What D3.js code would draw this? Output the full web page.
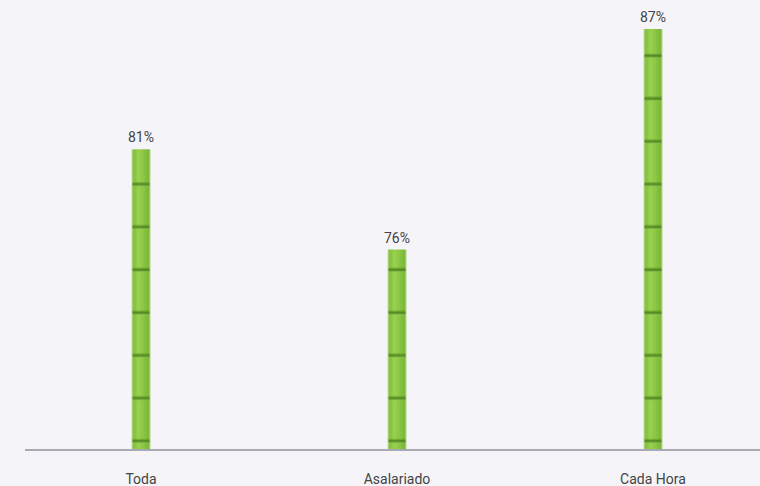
<!DOCTYPE html>
<html><head><meta charset="utf-8">
<script src="https://cdn.jsdelivr.net/npm/d3@7"></script>
<style>html,body{margin:0;padding:0;background:#f5f5f9;}svg{display:block;}</style>
</head><body>
<script>
const categories = ["Toda", "Asalariado", "Cada Hora"];
const values = [81, 76, 87];
const valueLabels = ["81%", "76%", "87%"];

const W = 760, H = 486, baseY = 450;
const svg = d3.select("body").append("svg").attr("width", W).attr("height", H);
svg.append("rect").attr("width", W).attr("height", H).attr("fill", "#f5f5f9");

const x = d3.scaleBand().domain(categories).range([13, 781]).padding(0);
const y = d3.scaleLinear().domain([66, 87]).range([baseY, 29]);

const defs = svg.append("defs");
const g = defs.append("linearGradient").attr("id", "bamboo").attr("x1", "0").attr("x2", "1").attr("y1", "0").attr("y2", "0");
[["0%", "#c2dd9c"], ["12%", "#80bf3c"], ["35%", "#9bd150"], ["60%", "#8dc845"], ["88%", "#78b836"], ["100%", "#b4d58c"]]
  .forEach(([o, c]) => g.append("stop").attr("offset", o).attr("stop-color", c));
const ng = defs.append("linearGradient").attr("id", "node").attr("x1", "0").attr("x2", "0").attr("y1", "0").attr("y2", "1");
[["0%", "#5e9a2a", 0], ["45%", "#4a7d1f", 0.85], ["65%", "#4f8424", 0.7], ["100%", "#a6d468", 0]]
  .forEach(([o, c, op]) => ng.append("stop").attr("offset", o).attr("stop-color", c).attr("stop-opacity", op));
const blur = defs.append("filter").attr("id", "soft").attr("x", "-20%").attr("y", "-50%").attr("width", "140%").attr("height", "200%");
blur.append("feGaussianBlur").attr("stdDeviation", "0.6");

const bw = 19;
const bars = svg.append("g");
categories.forEach((c, i) => {
  const cx = x(c) + x.bandwidth() / 2;
  const top = y(values[i]);
  const gg = bars.append("g");
  gg.append("rect").attr("x", cx - bw / 2).attr("y", top).attr("width", bw).attr("height", baseY - top).attr("fill", "url(#bamboo)");
  for (let ny = baseY - 9; ny > top + 15; ny -= 42.8) {
    gg.append("rect").attr("x", cx - bw / 2 + 1).attr("y", ny - 3).attr("width", bw - 2).attr("height", 6)
      .attr("fill", "url(#node)").attr("filter", "url(#soft)");
  }
  svg.append("text").attr("x", cx).attr("y", top - 7).attr("text-anchor", "middle")
    .attr("font-family", "Roboto, sans-serif").attr("font-size", 14).attr("fill", "#444").text(valueLabels[i]);
});

svg.append("line").attr("x1", 25).attr("x2", W).attr("y1", baseY).attr("y2", baseY)
  .attr("stroke", "#a9a9b1").attr("stroke-width", 2);

const xAxis = d3.axisBottom(x).tickSize(0).tickPadding(0);
const ax = svg.append("g").attr("transform", `translate(0,${baseY})`).call(xAxis);
ax.select(".domain").remove();
ax.selectAll("text").attr("y", 34).attr("dy", 0).attr("font-family", "Roboto, sans-serif").attr("font-size", 14).attr("fill", "#444");
</script>
</body></html>
